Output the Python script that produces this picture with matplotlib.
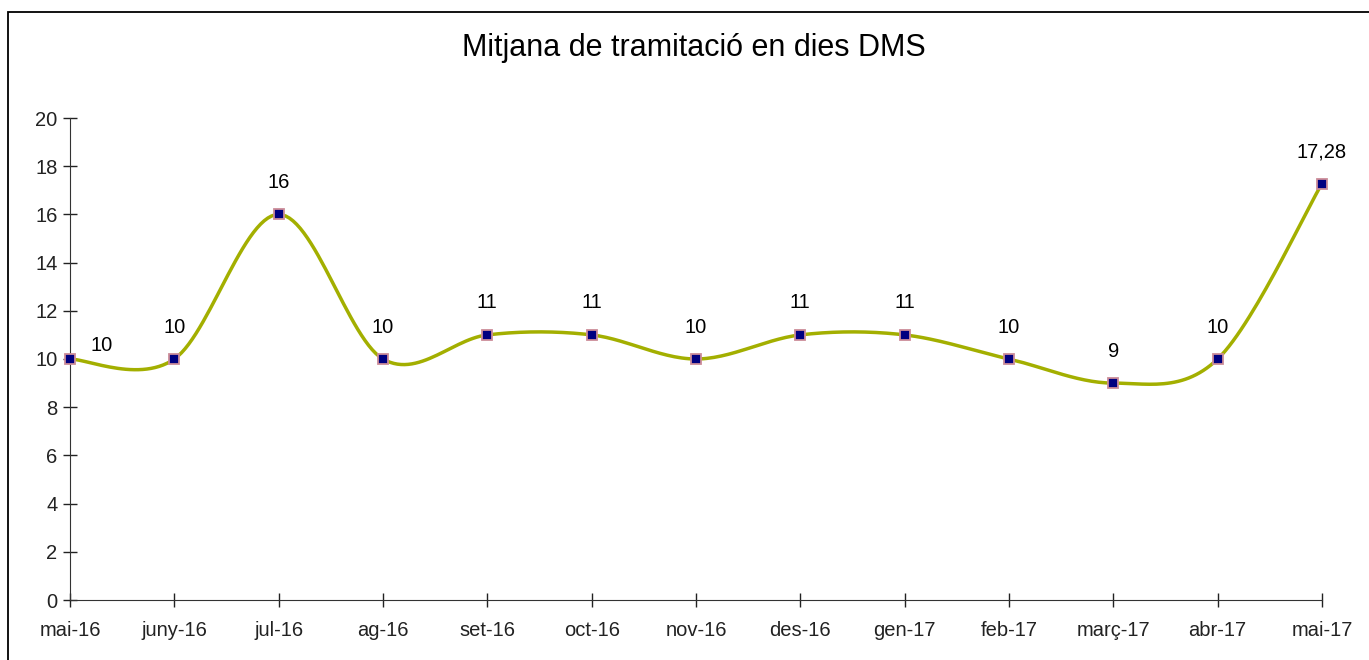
import matplotlib.pyplot as plt
import numpy as np
from matplotlib.patches import Rectangle

months = ["mai-16", "juny-16", "jul-16", "ag-16", "set-16", "oct-16", "nov-16",
          "des-16", "gen-17", "feb-17", "març-17", "abr-17", "mai-17"]
values = [10, 10, 16, 10, 11, 11, 10, 11, 11, 10, 9, 10, 17.28]
labels = ["10", "10", "16", "10", "11", "11", "10", "11", "11", "10", "9", "10", "17,28"]

LINE = "#A3AF00"


def smooth(y, n=30):
    # Excel-style smoothed line: Bezier segments with 1/6 neighbour tangents
    y = np.asarray(y, dtype=float)
    x = np.arange(len(y), dtype=float)
    xs, ys = [], []
    for i in range(len(y) - 1):
        p0 = (x[i - 1], y[i - 1]) if i > 0 else (x[i], y[i])
        p1 = (x[i], y[i])
        p2 = (x[i + 1], y[i + 1])
        p3 = (x[i + 2], y[i + 2]) if i + 2 < len(y) else (x[i + 1], y[i + 1])
        c1 = (p1[0] + (p2[0] - p0[0]) / 6, p1[1] + (p2[1] - p0[1]) / 6)
        c2 = (p2[0] - (p3[0] - p1[0]) / 6, p2[1] - (p3[1] - p1[1]) / 6)
        t = np.linspace(0, 1, n)
        b = [(1 - t) ** 3, 3 * (1 - t) ** 2 * t, 3 * (1 - t) * t ** 2, t ** 3]
        xs.append(b[0] * p1[0] + b[1] * c1[0] + b[2] * c2[0] + b[3] * p2[0])
        ys.append(b[0] * p1[1] + b[1] * c1[1] + b[2] * c2[1] + b[3] * p2[1])
    return np.concatenate(xs), np.concatenate(ys)


plt.rcParams["font.family"] = ["Liberation Sans", "DejaVu Sans"]

fig = plt.figure(figsize=(13.69, 6.6), dpi=100)
ax = fig.add_axes([70 / 1369, 60 / 660, (1322 - 70) / 1369, (600 - 118) / 660])

# outer chart frame (only left and top edges are visible)
fig.patches.append(Rectangle((8 / 1369, -0.1), 1.2, (660 - 12) / 660 + 0.1,
                             transform=fig.transFigure, fill=False,
                             edgecolor="black", linewidth=1.3))

x = np.arange(len(values))
sx, sy = smooth(values)
ax.plot(sx, sy, color=LINE, linewidth=2.5, solid_capstyle="round", zorder=2)
ax.plot(x, values, linestyle="none", marker="s", markersize=7,
        markerfacecolor="#000080", markeredgecolor="#CC8C99",
        markeredgewidth=1.3, zorder=3, clip_on=False)

for i, (v, lab) in enumerate(zip(values, labels)):
    dx = 0.3 if i == 0 else 0
    dy = 10 if i == 0 else 23
    ax.annotate(lab, (i + dx, v), xytext=(0, dy), textcoords="offset points",
                ha="center", va="center", fontsize=14.5)

ax.set_xlim(0, len(values) - 1)
ax.set_ylim(0, 20)
ax.set_yticks(range(0, 21, 2))
ax.set_xticks(x)
ax.set_xticklabels(months)
ax.tick_params(axis="both", direction="inout", length=10, width=1,
               labelsize=14.5, colors="#222222")
ax.tick_params(axis="x", pad=10)
ax.tick_params(axis="y", pad=4)
for s in ["top", "right"]:
    ax.spines[s].set_visible(False)
for s in ["left", "bottom"]:
    ax.spines[s].set_color("#333333")

fig.text(694 / 1369, 1 - 48 / 660, "Mitjana de tramitació en dies DMS",
         ha="center", va="center", fontsize=22)

fig.savefig("out.png", dpi=100)
